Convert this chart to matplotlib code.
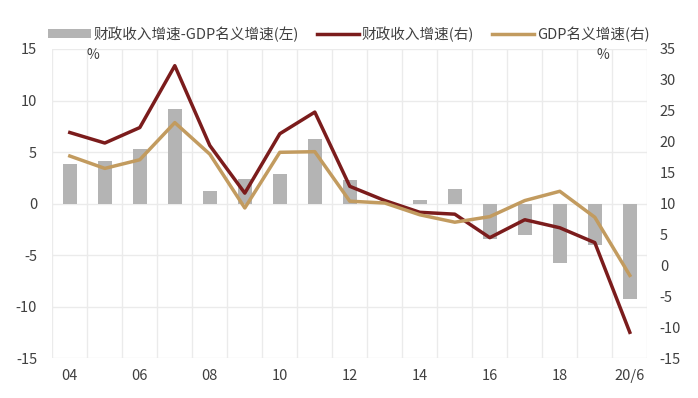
import matplotlib
matplotlib.use("Agg")
import matplotlib.pyplot as plt
import numpy as np
from matplotlib.patches import Patch
from matplotlib.lines import Line2D

plt.rcParams['font.family'] = ['Noto Sans CJK SC', 'DejaVu Sans']
plt.rcParams['axes.unicode_minus'] = False

categories = ['04', '05', '06', '07', '08', '09', '10', '11', '12', '13',
              '14', '15', '16', '17', '18', '19', '20/6']
tick_labels = ['04', '', '06', '', '08', '', '10', '', '12', '', '14', '',
               '16', '', '18', '', '20/6']
fiscal_growth = [21.5, 19.8, 22.3, 32.3, 19.4, 11.7, 21.3, 24.8, 12.8, 10.5,
                 8.6, 8.3, 4.5, 7.4, 6.1, 3.7, -10.8]
gdp_nominal = [17.7, 15.7, 17.1, 23.1, 18.0, 9.3, 18.3, 18.4, 10.4, 10.1,
               8.2, 7.0, 7.9, 10.5, 12.0, 7.8, -1.6]
diff = [3.8, 4.1, 5.3, 9.2, 1.2, 2.4, 2.9, 6.3, 2.3, 0.1,
        0.4, 1.4, -3.4, -3.0, -5.8, -4.0, -9.2]

label_bar = '财政收入增速-GDP名义增速(左)'
label_fiscal = '财政收入增速(右)'
label_gdp = 'GDP名义增速(右)'

c_bar = '#b4b4b4'
c_red = '#7b1c1c'
c_gold = '#c29b5f'
c_text = '#404040'
c_grid = '#ebebeb'

fig = plt.figure(figsize=(6.98, 3.98), dpi=100)
ax = fig.add_axes([52.3 / 698, 1 - 358.3 / 398, (647.3 - 52.3) / 698, (358.3 - 49) / 398])
x = np.arange(len(categories))

ax.bar(x, diff, width=0.41, color=c_bar, zorder=2)
ax.set_xlim(-0.5, len(categories) - 0.5)
ax.set_ylim(-15, 15)
ax.set_yticks(np.arange(-15, 16, 5))
ax.set_xticks(x)
ax.set_xticklabels(tick_labels)
ax.set_xticks(np.arange(-0.5, len(categories), 1), minor=True)
ax.grid(axis='y', color=c_grid, linewidth=1, zorder=0)
ax.grid(axis='x', which='minor', color=c_grid, linewidth=1, zorder=0)
ax.set_axisbelow(True)
for s in ax.spines.values():
    s.set_visible(False)
ax.tick_params(axis='both', which='both', length=0, labelsize=10.5, colors=c_text)
ax.tick_params(axis='y', pad=11)
ax.tick_params(axis='x', pad=8)

ax2 = ax.twinx()
ax2.plot(x, fiscal_growth, color=c_red, linewidth=2.5, zorder=3)
ax2.plot(x, gdp_nominal, color=c_gold, linewidth=2.5, zorder=4)
ax2.set_ylim(-15, 35)
ax2.set_yticks(np.arange(-15, 36, 5))
for s in ax2.spines.values():
    s.set_visible(False)
ax2.tick_params(axis='y', length=0, labelsize=10.5, colors=c_text, pad=9)

fig.text(93 / 698, 1 - 55 / 398, '%', ha='center', va='center', fontsize=10, color=c_text)
fig.text(603 / 698, 1 - 55 / 398, '%', ha='center', va='center', fontsize=10, color=c_text)

handles = [Patch(facecolor=c_bar, edgecolor='none'),
           Line2D([], [], color=c_red, linewidth=2.5),
           Line2D([], [], color=c_gold, linewidth=2.5)]
fig.legend(handles, [label_bar, label_fiscal, label_gdp], loc='center',
           bbox_to_anchor=(0.5, 1 - 34 / 398), ncol=3, frameon=False,
           fontsize=10.5, labelcolor=c_text, handlelength=2.9, handleheight=0.6,
           handletextpad=0.2, columnspacing=1.2, borderaxespad=0)

fig.savefig('out.png', dpi=100)
